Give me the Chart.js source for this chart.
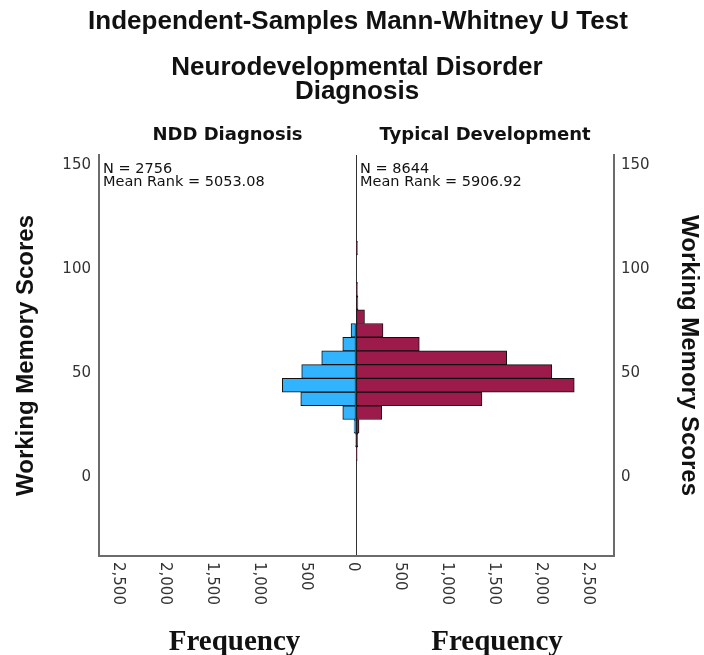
<!DOCTYPE html>
<html>
<head>
<meta charset="utf-8">
<title>Independent-Samples Mann-Whitney U Test</title>
<script src="https://cdn.jsdelivr.net/npm/chart.js@4/dist/chart.umd.min.js"></script>
<style>
  html, body { margin: 0; padding: 0; background: #fff; }
  #wrap { width: 704px; height: 655px; }
</style>
</head>
<body>
<div id="wrap"><canvas id="mwChart" width="704" height="655"></canvas></div>
<script>
var chartTitle = "Independent-Samples Mann-Whitney U Test";
var groupingTitle = ["Neurodevelopmental Disorder", "Diagnosis"];
var groupNames = ["NDD Diagnosis", "Typical Development"];
var groupN = ["2756", "8644"];
var groupMeanRank = ["5053.08", "5906.92"];
var yTitle = "Working Memory Scores";
var xTitle = "Frequency";

// histogram bins (score bin centres) and counts per group
var binCenters = [11.2, 17.8, 24.4, 31.0, 37.6, 44.2, 50.8, 57.4, 64.0, 70.6, 77.2, 83.8, 90.4, 97.0, 103.6, 110.2];
var nddCounts = [0, 4, 21, 141, 588, 784, 578, 365, 141, 53, 0, 0, 0, 0, 0, 0];
var tdCounts = [12, 18, 32, 273, 1340, 2322, 2082, 1603, 673, 287, 90, 20, 15, 0, 0, 15];

var yTicks = [0, 50, 100, 150];
var freqTicks = [-2500, -2000, -1500, -1000, -500, 0, 500, 1000, 1500, 2000, 2500];

function toPoints(counts, sign) {
  var pts = [];
  for (var i = 0; i < counts.length; i++) {
    if (counts[i] > 0) pts.push({ x: sign * counts[i], y: binCenters[i] });
  }
  return pts;
}

var tickFont = "15px 'DejaVu Sans', Verdana, sans-serif";

var textPlugin = {
  id: "mwText",
  afterDraw: function (chart) {
    var ctx = chart.ctx;
    var xs = chart.scales.x;
    var area = chart.chartArea;
    var zero = xs.getPixelForValue(0);
    var mids = [(area.left + zero) / 2, (zero + area.right) / 2];
    var starts = [area.left, zero];

    ctx.save();
    ctx.fillStyle = "#111";
    ctx.textAlign = "center";
    ctx.textBaseline = "middle";
    ctx.font = "bold 26px 'Liberation Sans', Arial, sans-serif";
    ctx.fillText(chartTitle, 358, 22);
    ctx.fillText(groupingTitle[0], 357, 68);
    ctx.fillText(groupingTitle[1], 357, 92);

    ctx.font = "bold 18px 'DejaVu Sans', Verdana, sans-serif";
    ctx.fillText(groupNames[0], mids[0], 135);
    ctx.fillText(groupNames[1], mids[1], 135);

    // N and mean rank in the top left of each panel
    ctx.textAlign = "left";
    ctx.font = "14.5px 'DejaVu Sans', Verdana, sans-serif";
    for (var g = 0; g < 2; g++) {
      ctx.fillText("N = " + groupN[g], starts[g] + 4, 169);
      ctx.fillText("Mean Rank = " + groupMeanRank[g], starts[g] + 4, 182);
    }

    // rotated frequency tick labels
    ctx.font = tickFont;
    ctx.fillStyle = "#333";
    xs.ticks.forEach(function (t) {
      var px = xs.getPixelForValue(t.value);
      ctx.save();
      ctx.translate(px - 3, area.bottom + 6);
      ctx.rotate(Math.PI / 2);
      ctx.textAlign = "left";
      ctx.textBaseline = "middle";
      ctx.fillText(Math.abs(t.value).toLocaleString("en-US"), 0, 0);
      ctx.restore();
    });

    ctx.fillStyle = "#111";
    ctx.textAlign = "center";
    ctx.textBaseline = "alphabetic";
    ctx.font = "bold 29px 'Liberation Serif', 'Times New Roman', serif";
    ctx.fillText(xTitle, mids[0] + 7, 650);
    ctx.fillText(xTitle, mids[1] + 12, 650);
    ctx.restore();
  }
};

var axisLine = { display: true, color: "#6b6b6b", width: 2 };

new Chart(document.getElementById("mwChart"), {
  type: "bar",
  data: {
    datasets: [
      {
        label: groupNames[0],
        data: toPoints(nddCounts, -1),
        backgroundColor: "#31b3fd",
        borderColor: "#111",
        borderWidth: 1,
        borderSkipped: false,
        grouped: false,
        barPercentage: 1,
        categoryPercentage: 1
      },
      {
        label: groupNames[1],
        data: toPoints(tdCounts, 1),
        backgroundColor: "#9c1b4b",
        borderColor: "#111",
        borderWidth: 1,
        borderSkipped: false,
        grouped: false,
        barPercentage: 1,
        categoryPercentage: 1
      }
    ]
  },
  options: {
    indexAxis: "y",
    responsive: false,
    animation: false,
    layout: { padding: { top: 155, left: 0, right: 0, bottom: 0 } },
    plugins: {
      legend: { display: false },
      tooltip: { enabled: false },
      title: { display: false }
    },
    scales: {
      x: {
        type: "linear",
        position: "bottom",
        min: -2735,
        max: 2745,
        afterBuildTicks: function (s) { s.ticks = freqTicks.map(function (v) { return { value: v }; }); },
        afterFit: function (s) { s.height = 99; },
        ticks: { display: false },
        grid: {
          drawTicks: false,
          color: function (c) { return c.tick && c.tick.value === 0 ? "#333" : "rgba(0,0,0,0)"; },
          lineWidth: 1
        },
        border: axisLine
      },
      y: {
        type: "linear",
        position: "left",
        min: -38,
        max: 155,
        offset: false,
        afterBuildTicks: function (s) { s.ticks = yTicks.map(function (v) { return { value: v }; }); },
        afterFit: function (s) { s.width = 99; },
        ticks: { color: "#333", font: { family: "'DejaVu Sans', Verdana, sans-serif", size: 15 }, padding: 8 },
        grid: { drawOnChartArea: false, drawTicks: false, offset: false },
        border: axisLine,
        title: {
          display: true,
          text: yTitle,
          color: "#111",
          font: { family: "'Liberation Sans', Arial, sans-serif", size: 24, weight: "bold" },
          padding: { top: 12, bottom: 0 }
        }
      },
      y2: {
        type: "linear",
        position: "right",
        min: -38,
        max: 155,
        offset: false,
        afterBuildTicks: function (s) { s.ticks = yTicks.map(function (v) { return { value: v }; }); },
        afterFit: function (s) { s.width = 90; },
        ticks: { color: "#333", font: { family: "'DejaVu Sans', Verdana, sans-serif", size: 15 }, padding: 7 },
        grid: { drawOnChartArea: false, drawTicks: false },
        border: axisLine,
        title: {
          display: true,
          text: yTitle,
          color: "#111",
          font: { family: "'Liberation Sans', Arial, sans-serif", size: 24, weight: "bold" },
          padding: { top: 1, bottom: 0 }
        }
      }
    }
  },
  plugins: [textPlugin]
});
</script>
</body>
</html>
